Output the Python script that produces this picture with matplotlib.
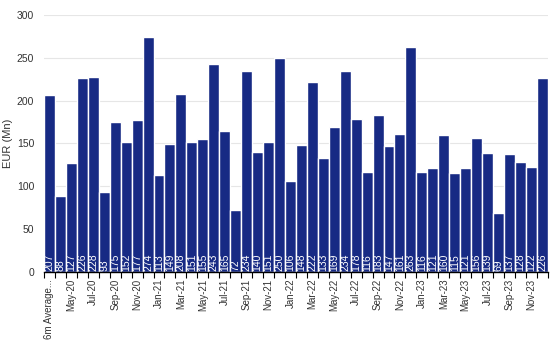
import numpy as np
import matplotlib
matplotlib.use("Agg")
import matplotlib.pyplot as plt

plt.rcParams["font.family"] = ["Liberation Sans", "DejaVu Sans"]

values = [207, 88, 127, 226, 228, 93, 175, 152, 177, 274, 113, 149, 208,
          151, 155, 243, 165, 72, 234, 140, 151, 250, 106, 148, 222, 133,
          169, 234, 178, 116, 183, 147, 161, 263, 116, 121, 160, 115, 121,
          156, 139, 69, 137, 128, 122, 226]
month_names = ["Jan", "Feb", "Mar", "Apr", "May", "Jun", "Jul", "Aug",
               "Sep", "Oct", "Nov", "Dec"]
# first month bar is Apr-20, then one bar per month to Dec-23
categories = ["6m Average..."] + [
    f"{month_names[(3 + i) % 12]}-{20 + (3 + i) // 12}"
    for i in range(len(values) - 1)
]

bar_color = "#172a84"

fig = plt.figure(figsize=(5.5, 3.62), dpi=100)
ax = fig.add_axes([0.08, 0.249, 0.916, 0.71])

x = np.arange(len(values))
ax.bar(x, values, width=1.0, color=bar_color, edgecolor="white",
       linewidth=1.0, zorder=2)
for xi, v in zip(x, values):
    ax.text(xi, 1.5, str(v), rotation=90, color="white", fontsize=7.5,
            ha="center", va="bottom", zorder=3)

ax.set_xlim(-0.5, len(values) - 0.5)
ax.set_ylim(0, 300)
ax.set_yticks(range(0, 301, 50))
ax.yaxis.grid(True, color="#e6e6e6", linewidth=0.8, zorder=0)
ax.set_axisbelow(True)

ax.set_xticks(x[::2])
ax.set_xticklabels(categories[::2], rotation=90, fontsize=7,
                   color="#333333")
ax.tick_params(axis="x", length=0, pad=5)
ax.set_xticks(np.arange(-0.5, len(values), 1), minor=True)
ax.tick_params(axis="x", which="minor", length=4, width=0.8,
               color="black")
ax.tick_params(axis="y", length=0, labelsize=7.5, labelcolor="#333333",
               pad=7)
ax.set_ylabel("EUR (Mn)", fontsize=8, color="#333333")
ax.yaxis.set_label_coords(-0.062, 0.5)

for s in ["top", "right", "left"]:
    ax.spines[s].set_visible(False)
ax.spines["bottom"].set_color("black")
ax.spines["bottom"].set_linewidth(1.0)

fig.savefig("out.png", dpi=100)
